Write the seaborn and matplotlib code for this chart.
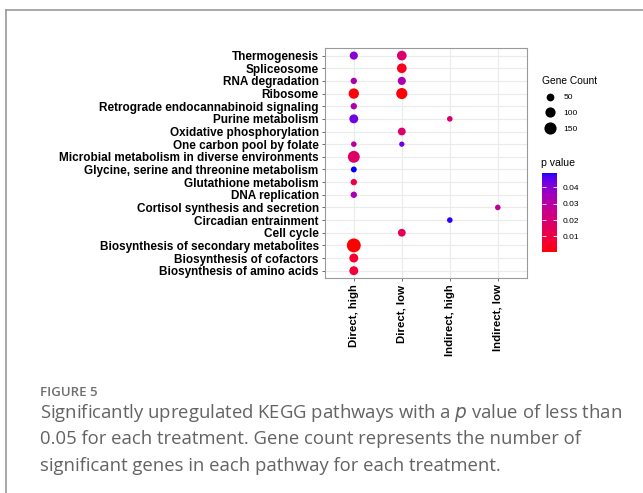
import numpy as np
import pandas as pd
import matplotlib
matplotlib.use("Agg")
import matplotlib.pyplot as plt
import seaborn as sns
from matplotlib.colors import ListedColormap, Normalize
from matplotlib.lines import Line2D


# pathways, top to bottom as in the figure
pathways = [
    "Thermogenesis", "Spliceosome", "RNA degradation", "Ribosome",
    "Retrograde endocannabinoid signaling", "Purine metabolism",
    "Oxidative phosphorylation", "One carbon pool by folate",
    "Microbial metabolism in diverse environments",
    "Glycine, serine and threonine metabolism", "Glutathione metabolism",
    "DNA replication", "Cortisol synthesis and secretion",
    "Circadian entrainment", "Cell cycle",
    "Biosynthesis of secondary metabolites", "Biosynthesis of cofactors",
    "Biosynthesis of amino acids",
]
treatments = ["Direct, high", "Direct, low", "Indirect, high", "Indirect, low"]

point_pathway = [
    "Thermogenesis", "Thermogenesis", "Spliceosome",
    "RNA degradation", "RNA degradation", "Ribosome", "Ribosome",
    "Retrograde endocannabinoid signaling",
    "Purine metabolism", "Purine metabolism",
    "Oxidative phosphorylation",
    "One carbon pool by folate", "One carbon pool by folate",
    "Microbial metabolism in diverse environments",
    "Glycine, serine and threonine metabolism", "Glutathione metabolism",
    "DNA replication", "Cortisol synthesis and secretion",
    "Circadian entrainment", "Cell cycle",
    "Biosynthesis of secondary metabolites", "Biosynthesis of cofactors",
    "Biosynthesis of amino acids",
]
point_treatment = [
    "Direct, high", "Direct, low", "Direct, low",
    "Direct, high", "Direct, low", "Direct, high", "Direct, low",
    "Direct, high",
    "Direct, high", "Indirect, high",
    "Direct, low",
    "Direct, high", "Direct, low",
    "Direct, high",
    "Direct, high", "Direct, high",
    "Direct, high", "Indirect, low",
    "Indirect, high", "Direct, low",
    "Direct, high", "Direct, high",
    "Direct, high",
]
gene_count = [57, 88, 88, 28, 57, 103, 122, 28, 72, 18, 51, 18, 14,
              142, 22, 28, 28, 18, 18, 51, 207, 72, 72]
p_value = [0.040, 0.018, 0.003, 0.033, 0.033, 0.001, 0.0005, 0.033,
           0.043, 0.020, 0.018, 0.030, 0.044, 0.017, 0.049, 0.010,
           0.033, 0.028, 0.048, 0.014, 0.0002, 0.006, 0.008]

df = pd.DataFrame({
    "Pathway": point_pathway,
    "Treatment": point_treatment,
    "Count": gene_count,
    "p": p_value,
})
df["x"] = pd.Categorical(df["Treatment"], categories=treatments).codes
df["y"] = len(pathways) - 1 - pd.Categorical(df["Pathway"], categories=pathways).codes


# red -> blue gradient interpolated in CIELAB, like ggplot
def srgb_to_lab(rgb):
    rgb = np.asarray(rgb, float)
    lin = np.where(rgb <= 0.04045, rgb / 12.92, ((rgb + 0.055) / 1.055) ** 2.4)
    M = np.array([[0.4124, 0.3576, 0.1805],
                  [0.2126, 0.7152, 0.0722],
                  [0.0193, 0.1192, 0.9505]])
    xyz = M @ lin / np.array([0.95047, 1.0, 1.08883])
    f = np.where(xyz > 0.008856, np.cbrt(xyz), 7.787 * xyz + 16 / 116)
    return np.array([116 * f[1] - 16, 500 * (f[0] - f[1]), 200 * (f[1] - f[2])])


def lab_to_srgb(lab):
    L, a, b = lab
    fy = (L + 16) / 116
    fx = fy + a / 500
    fz = fy - b / 200
    f = np.array([fx, fy, fz])
    xyz = np.where(f ** 3 > 0.008856, f ** 3, (f - 16 / 116) / 7.787)
    xyz = xyz * np.array([0.95047, 1.0, 1.08883])
    Minv = np.array([[3.2406, -1.5372, -0.4986],
                     [-0.9689, 1.8758, 0.0415],
                     [0.0557, -0.2040, 1.0570]])
    lin = Minv @ xyz
    lin = np.clip(lin, 0, 1)
    rgb = np.where(lin <= 0.0031308, 12.92 * lin, 1.055 * lin ** (1 / 2.4) - 0.055)
    return np.clip(rgb, 0, 1)


lab_lo = srgb_to_lab([1, 0, 0])
lab_hi = srgb_to_lab([0, 0, 1])
ramp = [lab_to_srgb(lab_lo + t * (lab_hi - lab_lo)) for t in np.linspace(0, 1, 256)]
cmap = ListedColormap(ramp)
norm = Normalize(min(p_value), max(p_value))

# size mapping (marker area, pt^2)
size_norm = (0, 200)
size_range = (8.0, 100.0)

fig = plt.figure(figsize=(6.43, 4.93), dpi=100)
ax = fig.add_axes([325 / 643, 1 - 278.3 / 493, 201.6 / 643, 230.3 / 493])

sns.scatterplot(data=df, x="x", y="y", hue="p", size="Count",
                palette=cmap, hue_norm=norm, sizes=size_range,
                size_norm=size_norm, linewidth=0, legend=False, ax=ax,
                zorder=3)

ax.set_xlim(-0.6, len(treatments) - 0.4)
ax.set_ylim(-0.6, len(pathways) - 0.4)
ax.set_xticks(range(len(treatments)))
ax.set_xticklabels(treatments, rotation=90, fontweight="bold",
                   fontsize=8.2, family="Liberation Sans")
ax.set_yticks(range(len(pathways)))
ax.set_yticklabels(pathways[::-1], fontweight="bold", fontsize=8.5,
                   family="Liberation Sans")
ax.set_xlabel("")
ax.set_ylabel("")
ax.grid(True, color="#ebebeb", linewidth=0.8, zorder=0)
ax.set_axisbelow(True)
for s in ax.spines.values():
    s.set_color("#9a9a9a")
    s.set_linewidth(0.8)
ax.tick_params(length=2.5, width=0.6, color="#555555", pad=2, labelcolor="black")

# size legend
handles = []
for v in [50, 100, 150]:
    s = size_range[0] + (v - size_norm[0]) / (size_norm[1] - size_norm[0]) * (size_range[1] - size_range[0])
    handles.append(Line2D([], [], marker="o", linestyle="", color="black",
                          markersize=np.sqrt(s), markeredgewidth=0))
leg = fig.legend(handles=handles, labels=["50", "100", "150"],
                 title="Gene Count", loc="upper left",
                 bbox_to_anchor=(535 / 643, 1 - 69 / 493), frameon=False,
                 prop={"family": "Liberation Sans", "size": 6},
                 title_fontproperties={"family": "Liberation Sans", "size": 7.4},
                 alignment="left", handletextpad=0.6, labelspacing=0.95,
                 borderpad=0.3)

# p value colour bar
cax = fig.add_axes([541.7 / 643, 1 - 252.3 / 493, 15.6 / 643, 79.6 / 493])
sm = plt.cm.ScalarMappable(norm=norm, cmap=cmap)
cb = fig.colorbar(sm, cax=cax, ticks=[0.01, 0.02, 0.03, 0.04])
cb.outline.set_visible(False)
cb.ax.yaxis.set_ticks_position("both")
cb.ax.tick_params(direction="in", color="white", length=3, width=0.6,
                  labelsize=6, labelright=True, labelleft=False, pad=4)
for t in cb.ax.get_yticklabels():
    t.set_family("Liberation Sans")
fig.text(541 / 643, 1 - 163.5 / 493, "p value", fontsize=7.6,
         family="Liberation Sans", va="center", ha="left")

# figure frame (top and left edges only)
fig.add_artist(Line2D([6 / 643, 1], [1 - 10 / 493, 1 - 10 / 493],
                      color="#9a9a9a", linewidth=1.2, transform=fig.transFigure))
fig.add_artist(Line2D([6 / 643, 6 / 643], [0, 1 - 10 / 493],
                      color="#9a9a9a", linewidth=1.2, transform=fig.transFigure))

# caption
fig.text(40 / 643, 1 - 396 / 493, "FIGURE 5", fontsize=9.5, color="#6e6e6e",
         family="Open Sans", fontweight="semibold", va="baseline")
caption = ["Significantly upregulated KEGG pathways with a $\\it{p}$ value of less than",
           "0.05 for each treatment. Gene count represents the number of",
           "significant genes in each pathway for each treatment."]
for i, line in enumerate(caption):
    fig.text(40 / 643, 1 - (417.5 + i * 26.7) / 493, line, fontsize=13.35,
             color="#636363", family="Open Sans", va="baseline")

fig.savefig("out.png", dpi=100)
